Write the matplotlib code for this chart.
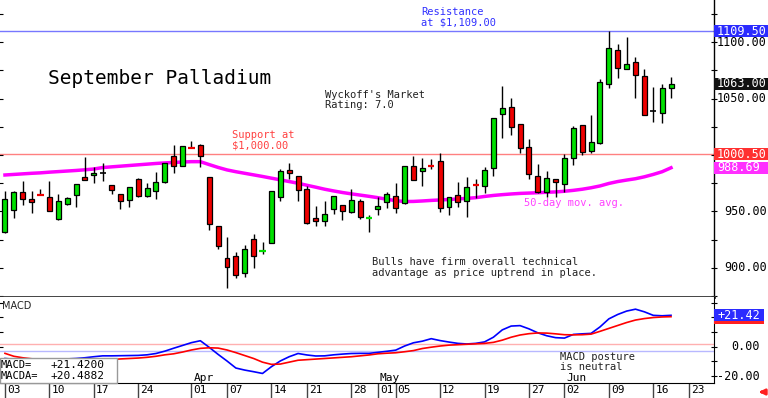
import pandas as pd
import matplotlib.pyplot as plt
from matplotlib.patches import Rectangle, FancyArrowPatch

# trading days (Good Friday, Memorial Day, Juneteenth closed)
holidays = pd.to_datetime(["2025-04-18", "2025-05-26", "2025-06-19"])
days = pd.bdate_range("2025-03-03", "2025-06-23")
days = days[~days.isin(holidays)]

opens = [932, 951.3, 967.3, 960.8, 964.6, 962.6, 943.6, 956.6, 964.9, 980.3,
         982, 984.3, 973.5, 965.8, 959.9, 979, 963.5, 968.4, 976.4, 999.1,
         990.5, 1006.4, 1008.8, 980.8, 937.2, 909.1, 910.9, 895.3, 925.7, 914.6,
         921.9, 963.1, 986.5, 981.4, 970, 944, 941.9, 952, 956, 949.3,
         959.3, 944.0, 952.2, 958.1, 963.5, 957.3, 990.3, 986.1, 990.6, 994.7,
         954.3, 964.6, 959.6, 973.9, 972.6, 988.8, 1036, 1042.7, 1027.4, 1006.8,
         981.7, 967, 978.8, 974.3, 997.1, 1026.5, 1003.5, 1010.4, 1062.6, 1092.9,
         1076.1, 1082, 1070.2, 1039.2, 1037.4, 1059]
highs = [968, 968, 977.3, 967.9, 969.6, 977, 965.2, 962.5, 974.5, 998,
         989.1, 992.7, 973.5, 965.8, 971.5, 979.2, 975.2, 984.7, 992.7, 1008.6,
         1007.7, 1012.7, 1009.7, 980.8, 937.2, 927.7, 914.4, 920.4, 929.8, 923.3,
         968.1, 987.9, 992.7, 981.4, 972.8, 955.1, 959.6, 963.5, 956, 969.7,
         960.8, 946.9, 963.1, 967.3, 975, 990.3, 999.1, 997.1, 996.5, 1001.5,
         962.6, 976.4, 980.8, 978.5, 989.1, 1033, 1061.3, 1050.7, 1027.4, 1014.2,
         991.8, 985.8, 978.8, 1000.6, 1026, 1026.5, 1035.4, 1067.3, 1109.5, 1098,
         1104.7, 1086.5, 1076.1, 1059.9, 1062.6, 1068.8]
lows = [931, 944, 955.5, 949, 964.2, 950.5, 942.2, 956, 954, 977.5,
        975, 977, 965.5, 952, 953.7, 962.8, 963, 961, 975.6, 984.3,
        990, 1006.1, 989, 933.6, 916.5, 882, 891.4, 892.3, 899.7, 912.1,
        921.9, 959.6, 979, 959.3, 939, 937.4, 937.4, 947.8, 942.5, 949,
        943.4, 932.1, 946.9, 953.4, 949, 957, 977.5, 972.6, 987.3, 949.8,
        946.9, 954.3, 945.4, 961.7, 966.6, 981.4, 1014.8, 1017.7, 1001.5, 978.8,
        966.5, 963, 962.6, 967.5, 991.2, 1000, 1002, 1009.5, 1059, 1067.9,
        1075.8, 1050.7, 1035.4, 1029.5, 1028.6, 1050.7]
closes = [961, 967.5, 961, 958.4, 964.2, 950.7, 959.3, 962, 974.1, 977.9,
          984.3, 984.3, 968.8, 959.6, 971.4, 963.5, 970.8, 976.1, 992.7, 990.3,
          1007.7, 1006.1, 999.4, 938.9, 919.5, 901.1, 893.5, 916.8, 910.9, 915.5,
          968.1, 986.1, 984.1, 969, 939.6, 941.9, 947.8, 963.5, 950.2, 959.9,
          944.9, 944.3, 954.6, 965.5, 952.8, 990.3, 977.9, 988.2, 990.3, 952.8,
          962.6, 958.4, 971.4, 973.5, 986.7, 1033, 1041.9, 1025, 1005.9, 983.2,
          967, 979.4, 975.8, 997.1, 1023.6, 1002.4, 1011.2, 1064.3, 1095, 1077.3,
          1080.3, 1070.8, 1035.4, 1039.2, 1059, 1063]
ma50 = [982.3, 982.8, 983.3, 983.8, 984.2, 984.8, 985.3, 985.8, 986.3, 986.9,
        987.6, 988.9, 989.5, 990.1, 990.7, 991.3, 991.9, 992.5, 993, 993.4,
        993.8, 994.1, 994.1, 991.5, 989, 986.8, 985.2, 983.8, 982.4, 981,
        979.5, 978, 976.5, 975, 973.2, 971.5, 969.7, 968.2, 966.8, 965.6,
        964.5, 963.4, 962.2, 960.8, 959.6, 958.8, 958.9, 959.3, 959.8, 960.2,
        960.6, 961.1, 961.6, 962.2, 963.3, 964.2, 964.9, 965.5, 966, 966.3,
        966.6, 967, 967.3, 967.9, 968.7, 969.7, 971, 972.6, 974.8, 976.5,
        977.8, 979, 980.7, 982.8, 985.2, 988.69]
macd = [-8, -8.5, -8.8, -9, -9, -8.8, -8.5, -8.3, -8, -7.5,
        -6.8, -6.2, -6.2, -6.1, -6, -5.9, -5.5, -4.6, -3, -1,
        0.9, 2.8, 4.1, -0.4, -5.2, -9.7, -14.5, -15.9, -17, -18.2,
        -13.6, -9.7, -6.8, -4.6, -5.6, -6.3, -6.2, -5.5, -5, -4.6,
        -4.5, -4.5, -3.8, -3.1, -2.3, 0.5, 2.7, 3.8, 5.5, 4.2,
        3.2, 2.3, 1.9, 2.3, 3.3, 6.5, 11.5, 14.1, 14.4, 12.2,
        9.5, 7.5, 6.2, 5.9, 8.4, 8.8, 9.1, 13.5, 19, 22,
        24.3, 25.6, 23.8, 21.4, 21.1, 21.42]
macda = [-4.5, -6.5, -7.5, -8.2, -8.6, -8.9, -9.1, -9.2, -9.2, -9.1,
         -9, -8.9, -8.7, -8.3, -8, -7.7, -7.2, -6.5, -5.5, -4.8,
         -3.6, -2.2, -1.1, -0.7, -0.9, -2.2, -4, -6, -8, -10.5,
         -12, -11.8, -10.5, -9.2, -8.8, -8.4, -8, -7.6, -7.2, -6.8,
         -6.2, -5.6, -4.8, -4.4, -4.1, -3.4, -2.6, -1.2, -0.3, 0.5,
         1.1, 1.4, 1.7, 2, 2.3, 3, 4.5, 6.5, 8, 8.9,
         9.4, 9.3, 8.8, 8.2, 8.1, 8.2, 8.6, 10.5, 12.5, 14.5,
         16.5, 18.2, 19.2, 19.9, 20.3, 20.4882]

resistance = 1109.5
support = 1000.5
price_ticks = [900, 950, 1000, 1050, 1100]
macd_ticks = [-20, 0]   # +20 sits under the MACD value box
macd_guides = [1.7, -2.9]

tick_days = ["2025-03-03", "2025-03-10", "2025-03-17", "2025-03-24", "2025-04-01",
             "2025-04-07", "2025-04-14", "2025-04-21", "2025-04-28", "2025-05-01",
             "2025-05-05", "2025-05-12", "2025-05-19", "2025-05-27", "2025-06-02",
             "2025-06-09", "2025-06-16", "2025-06-23"]
month_days = {"Apr": "2025-04-01", "May": "2025-05-01", "Jun": "2025-06-02"}

MONO = "DejaVu Sans Mono"
W, H = 768, 398

fig = plt.figure(figsize=(W / 100, H / 100), dpi=100)
ax = fig.add_axes([0, 101 / H, 714 / W, 297 / H])
axm = fig.add_axes([0, 15 / H, 714 / W, 86 / H])


def fx(px):
    return px / W


def fy(py):
    return 1 - py / H


x = list(range(len(closes)))

# candles
for i in x:
    o, h, l, c = opens[i], highs[i], lows[i], closes[i]
    ax.vlines(i, l, h, color="black", lw=1, zorder=2)
    if c == o:
        ax.hlines(c, i - 0.35, i + 0.35, color="black", lw=1.2, zorder=3)
        continue
    col = "#00e000" if c > o else "#ee0000"
    if abs(c - o) < 1.5:
        ax.hlines((c + o) / 2, i - 0.35, i + 0.35, color=col, lw=1.6, zorder=3)
    else:
        ax.add_patch(Rectangle((i - 0.28, min(o, c)), 0.56, abs(c - o),
                               fc=col, ec="black", lw=0.9, zorder=3))

ax.plot(x, ma50, color="#ff00ff", lw=2.5, zorder=1.5)
ax.axhline(resistance, color="#7777ff", lw=1, zorder=1)
ax.axhline(support, color="#ff8080", lw=1, zorder=1)

xlim = (-0.56, 79.84)
ax.set_xlim(*xlim)
ax.set_ylim(874.3, 1137.2)
ax.set_xticks([])
ax.set_yticks(range(875, 1137, 25))
ax.tick_params(axis="y", which="both", left=True, right=True, direction="inout",
               length=4, labelleft=False, labelright=False)
for s in ["top", "left"]:
    ax.spines[s].set_visible(False)
ax.spines["bottom"].set_color("#333333")
ax.spines["bottom"].set_linewidth(2)
ax.spines["right"].set_linewidth(1)

# MACD panel
axm.plot(x, macd, color="#0000ff", lw=1.2, zorder=3)
axm.plot(x, macda, color="#ff0000", lw=1.2, zorder=3)
axm.axhline(macd_guides[0], color="#ffb0b0", lw=1, zorder=1)
axm.axhline(macd_guides[1], color="#b8b8ff", lw=1, zorder=1)
axm.set_xlim(*xlim)
axm.set_ylim(-24.7, 33.9)
axm.set_yticks(range(-20, 31, 10))
axm.tick_params(axis="y", left=True, right=True, direction="inout", length=4,
                labelleft=False, labelright=False)
tick_pos = [days.get_loc(pd.Timestamp(d)) for d in tick_days]
axm.set_xticks(tick_pos)
axm.tick_params(axis="x", direction="out", length=15, width=1, color="#444444",
                labelbottom=False)
for s in ["top", "left"]:
    axm.spines[s].set_visible(False)

fig.canvas.draw()


def data_px(axis, xv, yv):
    px, py = axis.transData.transform((xv, yv))
    return px, H - py


# day labels under the axis
for d, p in zip(tick_days, tick_pos):
    px, _ = data_px(axm, p, 0)
    fig.text(fx(px + 2), fy(390), d[-2:], fontsize=8, family=MONO, va="center")
for m, d in month_days.items():
    px, _ = data_px(axm, days.get_loc(pd.Timestamp(d)), 0)
    fig.text(fx(px + 2), fy(378), m, fontsize=8, family=MONO, va="center")

# right price scale
for v in price_ticks:
    _, py = data_px(ax, 0, v)
    fig.text(fx(767), fy(py), f"{v:.2f}", fontsize=8.5, family=MONO,
             ha="right", va="center")
for v in macd_ticks:
    _, py = data_px(axm, 0, v)
    fig.text(fx(760), fy(py), f"{v:.2f}", fontsize=8.5, family=MONO,
             ha="right", va="center")


def value_box(axis, v, text, color, right=768):
    _, py = data_px(axis, 0, v)
    fig.add_artist(Rectangle((fx(714), fy(py + 6)), fx(right - 714), 12 / H,
                             transform=fig.transFigure, fc=color, ec="none",
                             zorder=5))
    fig.text(fx(717), fy(py), text, fontsize=8.5, family=MONO, color="white",
             va="center", zorder=6)


value_box(ax, resistance, f"{resistance:.2f}", "#2b2bff")
value_box(ax, closes[-1], f"{closes[-1]:.2f}", "#111111")
value_box(ax, support, f"{support:.2f}", "#ff3030")
value_box(ax, ma50[-1], f"{ma50[-1]:.2f}", "#ff30ff")
value_box(axm, macda[-1] - 1.2, "", "#ff2020", right=764)
value_box(axm, macd[-1], f"+{macd[-1]:.2f}", "#2b2bff", right=764)

# annotations
def lines(px, py, rows, color="#222222", size=7.5, step=10.5):
    for k, r in enumerate(rows):
        fig.text(fx(px), fy(py + k * step), r, fontsize=size, family=MONO,
                 color=color, va="center")


lines(48, 78, ["September Palladium"], color="black", size=14)
lines(325, 95, ["Wyckoff's Market", "Rating: 7.0"])
lines(421, 12, ["Resistance", "at $1,109.00"], color="#3030ff")
lines(232, 135, ["Support at", "$1,000.00"], color="#ff4040")
lines(372, 262, ["Bulls have firm overall technical",
                 "advantage as price uptrend in place."])
lines(524, 203, ["50-day mov. avg."], color="#ff40ff")
lines(560, 357, ["MACD posture", "is neutral"])
fig.text(fx(2), fy(306), "MACD", fontsize=7, color="#222222", va="center")

# MACD readout box
fig.add_artist(Rectangle((fx(0), fy(383)), fx(117), 25 / H,
                         transform=fig.transFigure, fc="white", ec="#999999",
                         lw=1, zorder=5))
for k, (name, val) in enumerate([("MACD=", macd[-1]), ("MACDA=", macda[-1])]):
    fig.text(fx(1), fy(364.5 + k * 11.5), name, fontsize=7.5, family=MONO,
             va="center", zorder=6)
    fig.text(fx(51), fy(364.5 + k * 11.5), f"{val:+.4f}", fontsize=8,
             family=MONO, va="center", zorder=6)

fig.add_artist(FancyArrowPatch((fx(767), fy(392)), (fx(756), fy(392)),
                               transform=fig.transFigure, arrowstyle="-|>",
                               mutation_scale=8, color="#ff2020", lw=2))

fig.savefig("out.png", dpi=100)
print("Chart saved: out.png")
